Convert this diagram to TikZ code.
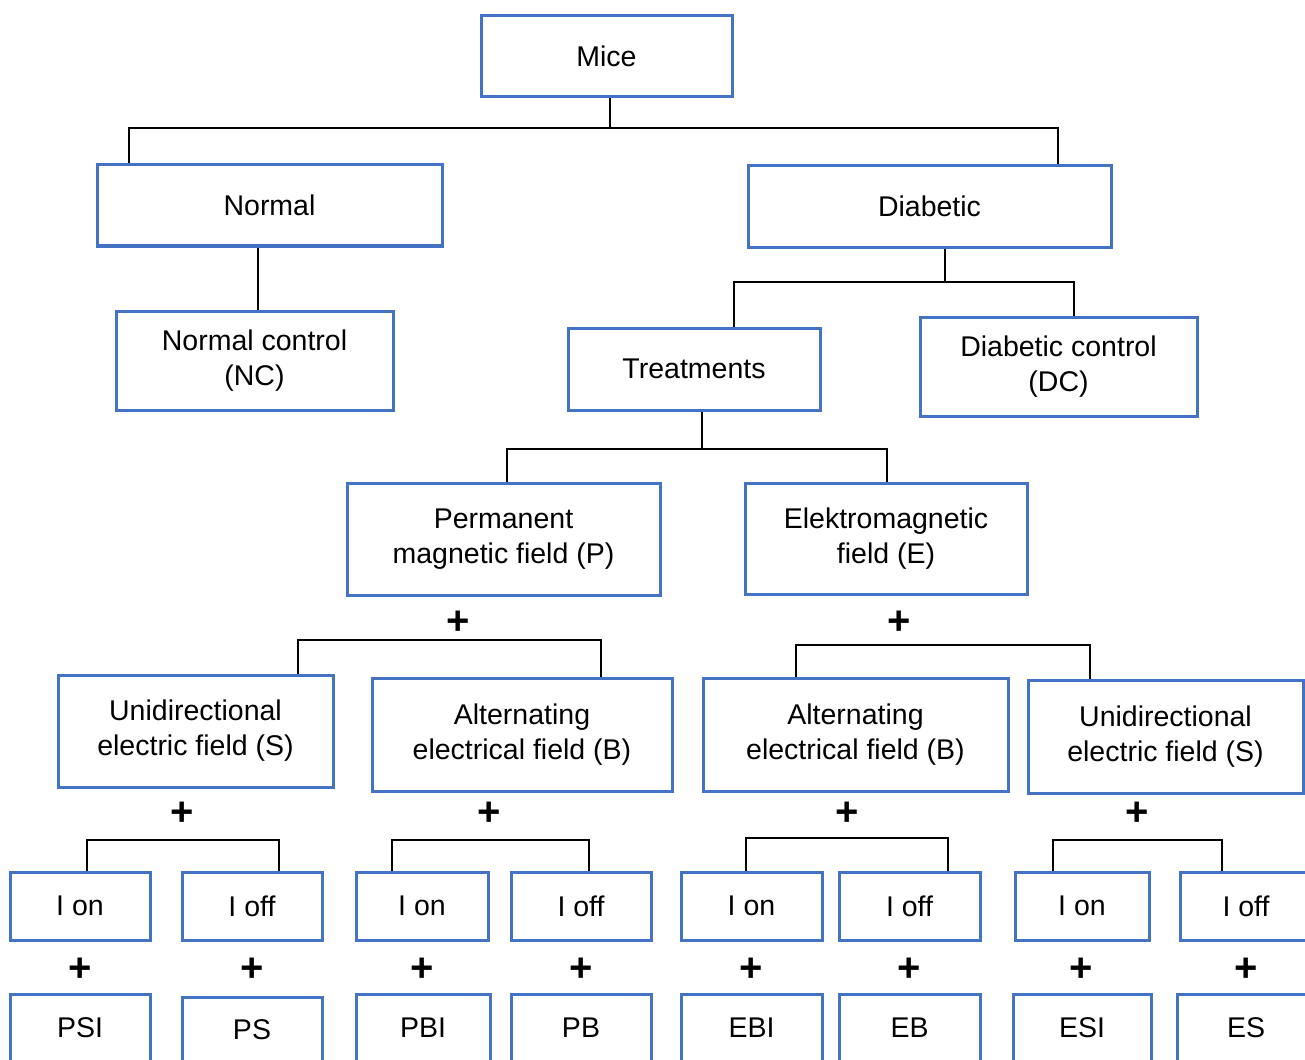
\documentclass[tikz,border=0pt]{standalone}
\usepackage{fontspec}
\setmainfont{Liberation Sans}
\definecolor{boxblue}{HTML}{4472C4}
\begin{document}
\begin{tikzpicture}[x=1pt,y=-1pt,
  box/.style={draw=boxblue, line width=3pt, fill=white, inner sep=0pt, align=center,
     font=\fontsize{28.5}{35}\selectfont},
  conn/.style={draw=black, line width=2.5pt},
  plus/.style={inner sep=0pt, font=\fontsize{40}{40}\selectfont\bfseries}]
\useasboundingbox (0,0) rectangle (1305,1059);
\clip (0,0) rectangle (1305,1059);
\fill[white] (0,0) rectangle (1305,1059);

% level boxes
\node[box, minimum width=251, minimum height=81] (mice) at (606.5,56.5) {Mice};
\node[box, minimum width=345, minimum height=81] (normal) at (269.5,205.5) {Normal};
\node[box, minimum width=363, minimum height=81] (diab) at (929.5,206.5) {Diabetic};
\node[box, minimum width=277, minimum height=99] (nc) at (254.5,360.5) {Normal control\\(NC)};
\node[box, minimum width=252, minimum height=82] (treat) at (694,369) {Treatments};
\node[box, minimum width=277, minimum height=99] (dc) at (1058.5,366.5) {Diabetic control\\(DC)};
\node[box, minimum width=313, minimum height=112] (perm) at (503.5,539) {Permanent\\magnetic field (P)};
\node[box, minimum width=282, minimum height=111] (elek) at (886,538.5) {Elektromagnetic\\field (E)};
\node[box, minimum width=275, minimum height=112] (us1) at (195.5,731) {Unidirectional\\electric field (S)};
\node[box, minimum width=300, minimum height=113] (ab1) at (522,734.5) {Alternating\\electrical field (B)};
\node[box, minimum width=305, minimum height=113] (ab2) at (855.5,734.5) {Alternating\\electrical field (B)};
\node[box, minimum width=275, minimum height=113] (us2) at (1165.5,736.5) {Unidirectional\\electric field (S)};

% I on / I off row
\node[box, minimum width=140, minimum height=68] (on1) at (80,906) {I on};
\node[box, minimum width=140, minimum height=68] (off1) at (252,906) {I off};
\node[box, minimum width=132, minimum height=68] (on2) at (422,906) {I on};
\node[box, minimum width=140, minimum height=68] (off2) at (581,906) {I off};
\node[box, minimum width=141, minimum height=68] (on3) at (751.5,906) {I on};
\node[box, minimum width=141, minimum height=68] (off3) at (909.5,906) {I off};
\node[box, minimum width=134, minimum height=68] (on4) at (1082,906) {I on};
\node[box, minimum width=132, minimum height=68] (off4) at (1246,906) {I off};

% final groups (cut by the lower edge)
\node[box, minimum width=140, minimum height=68] (psi) at (80,1028) {PSI};
\node[box, minimum width=140, minimum height=66] (ps) at (252,1030) {PS};
\node[box, minimum width=134, minimum height=68] (pbi) at (423,1028) {PBI};
\node[box, minimum width=140, minimum height=68] (pb) at (581,1028) {PB};
\node[box, minimum width=141, minimum height=68] (ebi) at (751.5,1028) {EBI};
\node[box, minimum width=141, minimum height=68] (eb) at (909.5,1028) {EB};
\node[box, minimum width=138, minimum height=68] (esi) at (1082,1028) {ESI};
\node[box, minimum width=138, minimum height=68] (es) at (1246,1028) {ES};

% connectors
\coordinate (m1) at (610,128);
\coordinate (b1l) at (129,128);
\coordinate (b1r) at (1058,128);
\draw[conn] (mice.south -| m1) -- (m1);
\draw[conn] (normal.north -| b1l) -- (b1l) -- (b1r) -- (diab.north -| b1r);

\coordinate (n1) at (258,260);
\draw[conn] (normal.south -| n1) -- (nc.north -| n1);

\coordinate (d1) at (945,282);
\coordinate (b2l) at (734,282);
\coordinate (b2r) at (1074,282);
\draw[conn] (diab.south -| d1) -- (d1);
\draw[conn] (treat.north -| b2l) -- (b2l) -- (b2r) -- (dc.north -| b2r);

\coordinate (t1) at (702,449);
\coordinate (b3l) at (507,449);
\coordinate (b3r) at (887,449);
\draw[conn] (treat.south -| t1) -- (t1);
\draw[conn] (perm.north -| b3l) -- (b3l) -- (b3r) -- (elek.north -| b3r);

\coordinate (b4l) at (298,640);
\coordinate (b4r) at (601,640);
\draw[conn] (us1.north -| b4l) -- (b4l) -- (b4r) -- (ab1.north -| b4r);
\coordinate (b5l) at (796,645);
\coordinate (b5r) at (1090,645);
\draw[conn] (ab2.north -| b5l) -- (b5l) -- (b5r) -- (us2.north -| b5r);

\coordinate (c1l) at (87,840);
\coordinate (c1r) at (279,840);
\draw[conn] (on1.north -| c1l) -- (c1l) -- (c1r) -- (off1.north -| c1r);
\coordinate (c2l) at (392,840);
\coordinate (c2r) at (589,840);
\draw[conn] (on2.north -| c2l) -- (c2l) -- (c2r) -- (off2.north -| c2r);
\coordinate (c3l) at (746,838);
\coordinate (c3r) at (948,838);
\draw[conn] (on3.north -| c3l) -- (c3l) -- (c3r) -- (off3.north -| c3r);
\coordinate (c4l) at (1053,840);
\coordinate (c4r) at (1222,840);
\draw[conn] (on4.north -| c4l) -- (c4l) -- (c4r) -- (off4.north -| c4r);

% plus signs
\node[plus] (p1) at (458,623) {+};
\node[plus] (p2) at (899,623) {+};
\node[plus] (p3) at (182,814) {+};
\node[plus] (p4) at (489,814) {+};
\node[plus] (p5) at (847,814) {+};
\node[plus] (p6) at (1137,814) {+};
\node[plus] (q1) at (80,970) {+};
\node[plus] (q2) at (252,970) {+};
\node[plus] (q3) at (422,970) {+};
\node[plus] (q4) at (581,970) {+};
\node[plus] (q5) at (751,970) {+};
\node[plus] (q6) at (909,970) {+};
\node[plus] (q7) at (1081,970) {+};
\node[plus] (q8) at (1246,970) {+};
\end{tikzpicture}
\end{document}
